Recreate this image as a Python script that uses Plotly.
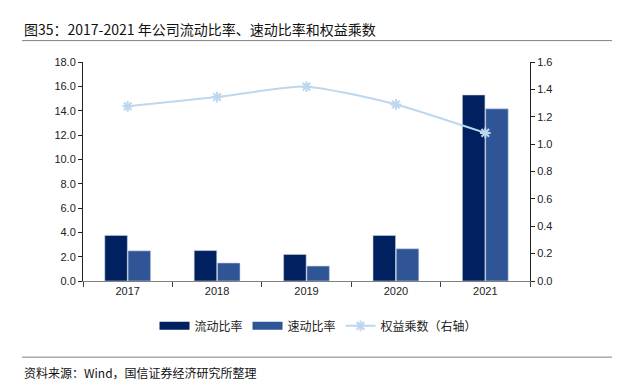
import plotly.graph_objects as go

years = ["2017", "2018", "2019", "2020", "2021"]
current_ratio = [3.75, 2.50, 2.18, 3.74, 15.29]
quick_ratio = [2.48, 1.48, 1.23, 2.65, 14.15]
equity_multiplier = [1.276, 1.344, 1.42, 1.29, 1.082]

left_ticks = [0, 2, 4, 6, 8, 10, 12, 14, 16, 18]
right_ticks = [0, 0.2, 0.4, 0.6, 0.8, 1.0, 1.2, 1.4, 1.6]

FONT = "Liberation Sans, Arial, Noto Sans CJK SC, sans-serif"
CJK = "Noto Sans CJK SC, Liberation Sans, sans-serif"

# page has 8px body margin; figure sized to fit the window
W, H = 613, 384
L, T, PW, PH = 75, 53.5, 447, 220

C_CUR, C_QUICK, C_EQ = "#002060", "#2F5597", "#BDD7EE"


def px(xf):
    return (xf - L) / PW


def py(yf):
    return 1 - (yf - T) / PH


fig = go.Figure()
fig.add_trace(go.Bar(x=years, y=current_ratio, name="流动比率", showlegend=False, legendgroup="a",
                     marker=dict(color=C_CUR, line=dict(color="#c8d0e0", width=0.6))))
fig.add_trace(go.Bar(x=years, y=quick_ratio, name="速动比率", showlegend=False, legendgroup="b",
                     marker=dict(color=C_QUICK, line=dict(color="#c8d0e0", width=0.6))))
# legend proxies (wide rectangles like the original legend)
fig.add_trace(go.Scatter(x=[None], y=[None], name="流动比率", mode="lines", legendgroup="a",
                         line=dict(color=C_CUR, width=8)))
fig.add_trace(go.Scatter(x=[None], y=[None], name="速动比率", mode="lines", legendgroup="b",
                         line=dict(color=C_QUICK, width=8)))
fig.add_trace(go.Scatter(x=years, y=equity_multiplier, name="权益乘数（右轴）", yaxis="y2",
                         mode="lines+markers", line=dict(color=C_EQ, width=2, shape="spline", smoothing=0.6),
                         marker=dict(symbol="asterisk-open", size=9, color=C_EQ,
                                     line=dict(color=C_EQ, width=2))))

fig.update_layout(
    width=W, height=H,
    paper_bgcolor="white", plot_bgcolor="white",
    margin=dict(l=L, r=W - L - PW, t=T, b=H - T - PH),
    barmode="group", bargap=0.48, bargroupgap=0.03,
    font=dict(family=FONT, size=11, color="#222222"),
    showlegend=True,
    legend=dict(orientation="h", x=0.5 + 12 / PW, xanchor="center", y=py(304), yanchor="top",
                font=dict(family=CJK, size=12, color="#222222"), itemwidth=30,
                traceorder="normal"),
    xaxis=dict(type="category", showline=True, linecolor="#808080", linewidth=1,
               ticks="outside", tickson="boundaries", ticklen=5, tickcolor="#404040",
               tickfont=dict(size=11), showgrid=False),
    yaxis=dict(range=[0, 18], tickvals=left_ticks, tickformat=".1f", showline=True,
               linecolor="#222222", linewidth=1, ticks="outside", ticklen=4,
               tickcolor="#222222", showgrid=False, zeroline=False, tickfont=dict(size=11)),
    yaxis2=dict(range=[0, 1.6], tickvals=right_ticks, tickformat=".1f", overlaying="y",
                side="right", showline=True, linecolor="#222222", linewidth=1,
                ticks="outside", ticklen=4, tickcolor="#222222", showgrid=False,
                zeroline=False, tickfont=dict(size=11)),
)

fig.add_annotation(text="图35：2017-2021 年公司流动比率、速动比率和权益乘数", xref="paper", yref="paper",
                   x=px(14), y=py(20), xanchor="left", yanchor="middle",
                   showarrow=False, font=dict(family=CJK, size=14, color="#111111"))
fig.add_annotation(text="资料来源：Wind，国信证券经济研究所整理", xref="paper", yref="paper",
                   x=px(14), y=py(365), xanchor="left", yanchor="middle",
                   showarrow=False, font=dict(family=CJK, size=12, color="#111111"))
fig.add_shape(type="line", xref="paper", yref="paper", x0=px(14), x1=px(604),
              y0=py(32), y1=py(32), line=dict(color="#808080", width=1))
fig.add_shape(type="line", xref="paper", yref="paper", x0=px(14), x1=px(604),
              y0=py(350), y1=py(350), line=dict(color="#808080", width=1))

fig.write_html("out.html")
